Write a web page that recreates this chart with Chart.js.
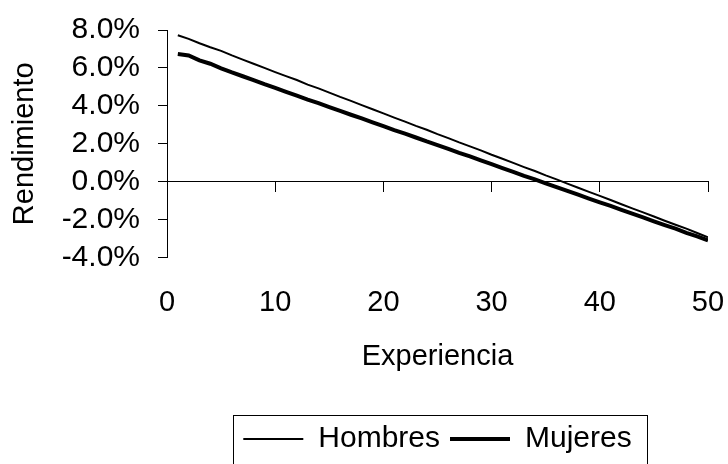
<!DOCTYPE html>
<html>
<head>
<meta charset="utf-8">
<script src="https://cdn.jsdelivr.net/npm/chart.js@4/dist/chart.umd.min.js"></script>
<style>
  html, body { margin: 0; padding: 0; background: #ffffff; }
  #chart { display: block; }
</style>
</head>
<body>
<canvas id="chart" width="728" height="464"></canvas>
<script>
// Years of experience
const experiencia = [1, 2, 3, 4, 5, 6, 7, 8, 9, 10,
  11, 12, 13, 14, 15, 16, 17, 18, 19, 20,
  21, 22, 23, 24, 25, 26, 27, 28, 29, 30,
  31, 32, 33, 34, 35, 36, 37, 38, 39, 40,
  41, 42, 43, 44, 45, 46, 47, 48, 49, 50];

// Marginal return (%) for men
const hombres = [7.72, 7.53, 7.30, 7.09, 6.90, 6.66, 6.44, 6.22, 6.00, 5.78,
  5.57, 5.36, 5.12, 4.92, 4.70, 4.47, 4.26, 4.04, 3.82, 3.60,
  3.38, 3.17, 2.94, 2.74, 2.51, 2.30, 2.07, 1.86, 1.65, 1.42,
  1.21, 0.99, 0.77, 0.56, 0.33, 0.12, -0.10, -0.32, -0.54, -0.75,
  -0.97, -1.19, -1.41, -1.62, -1.84, -2.06, -2.27, -2.48, -2.71, -2.93];

// Marginal return (%) for women
const mujeres = [6.73, 6.66, 6.40, 6.22, 5.98, 5.76, 5.56, 5.36, 5.14, 4.95,
  4.74, 4.54, 4.33, 4.14, 3.93, 3.73, 3.53, 3.34, 3.13, 2.93,
  2.72, 2.53, 2.33, 2.12, 1.93, 1.73, 1.52, 1.33, 1.12, 0.92,
  0.72, 0.52, 0.31, 0.12, -0.09, -0.29, -0.48, -0.69, -0.89, -1.09,
  -1.28, -1.49, -1.69, -1.88, -2.09, -2.29, -2.48, -2.70, -2.88, -3.10];

const seriesNames = ['Hombres', 'Mujeres'];
const xTicks = [0, 10, 20, 30, 40, 50];
const yTicks = [-4, -2, 0, 2, 4, 6, 8];

const FONT = 'Liberation Sans, Arial, sans-serif';

const toPoints = (vals) => vals.map((v, i) => ({ x: experiencia[i], y: v }));

// White page behind the chart
const whiteBg = {
  id: 'whiteBg',
  beforeDraw(chart) {
    const c = chart.ctx;
    c.save();
    c.fillStyle = '#ffffff';
    c.fillRect(0, 0, chart.width, chart.height);
    c.restore();
  }
};

// Thin frame around the legend entries
const legendFrame = {
  id: 'legendFrame',
  afterDraw(chart) {
    const lg = chart.legend;
    if (!lg || !lg.legendHitBoxes || !lg.legendHitBoxes.length) return;
    const boxes = lg.legendHitBoxes;
    const left = Math.min(...boxes.map(b => b.left)) - 10;
    const right = Math.max(...boxes.map(b => b.left + b.width)) + 16;
    const top = lg.top + 1;
    const c = chart.ctx;
    c.save();
    c.strokeStyle = '#000000';
    c.lineWidth = 1;
    c.strokeRect(Math.round(left) + 0.5, Math.round(top) + 0.5, Math.round(right - left), chart.height);
    c.restore();
  }
};

new Chart(document.getElementById('chart'), {
  type: 'line',
  data: {
    datasets: [
      {
        label: seriesNames[0],
        data: toPoints(hombres),
        borderColor: '#000000',
        backgroundColor: '#000000',
        borderWidth: 2,
        pointRadius: 0,
        tension: 0,
        fill: false
      },
      {
        label: seriesNames[1],
        data: toPoints(mujeres),
        borderColor: '#000000',
        backgroundColor: '#000000',
        borderWidth: 4,
        pointRadius: 0,
        tension: 0,
        fill: false
      }
    ]
  },
  options: {
    responsive: false,
    animation: false,
    devicePixelRatio: 1,
    layout: { padding: { top: 30, right: 20, bottom: 0, left: 0 } },
    scales: {
      x: {
        type: 'linear',
        position: 'bottom',
        min: 0,
        max: 50,
        afterBuildTicks: (s) => { s.ticks = xTicks.map(v => ({ value: v })); },
        ticks: { color: '#000000', font: { family: FONT, size: 29 }, padding: 0, maxRotation: 0, autoSkip: false },
        // invisible tick marks only reserve the gap above the labels
        grid: { display: true, drawOnChartArea: false, drawTicks: true, tickLength: 28, color: 'rgba(0,0,0,0)' },
        border: { display: false },
        title: {
          display: true,
          text: 'Experiencia',
          color: '#000000',
          font: { family: FONT, size: 29 },
          padding: { top: 0, bottom: 40 }
        },
        afterFit: (s) => { s.height = 156.5; }
      },
      xAxisZero: {
        type: 'linear',
        position: { y: 0 },
        min: 0,
        max: 50,
        afterBuildTicks: (s) => { s.ticks = xTicks.map(v => ({ value: v })); },
        ticks: { display: false },
        grid: { drawOnChartArea: false, color: '#000000', tickLength: 10, lineWidth: 1 },
        border: { display: true, color: '#000000', width: 1 }
      },
      y: {
        type: 'linear',
        position: 'left',
        min: -4,
        max: 8,
        afterBuildTicks: (s) => { s.ticks = yTicks.map(v => ({ value: v })); },
        ticks: {
          color: '#000000',
          font: { family: FONT, size: 30, lineHeight: 0.6 },
          padding: 18,
          autoSkip: false,
          callback: (v) => Number(v).toFixed(1) + '%'
        },
        grid: { drawOnChartArea: false, color: '#000000', tickLength: 9, lineWidth: 1 },
        border: { display: true, color: '#000000', width: 1 },
        title: {
          display: true,
          text: 'Rendimiento',
          color: '#000000',
          font: { family: FONT, size: 29 },
          padding: { top: 8, bottom: 0 }
        },
        afterFit: (s) => { s.width = 167; }
      }
    },
    plugins: {
      legend: {
        display: true,
        position: 'bottom',
        fullSize: false,
        labels: {
          color: '#000000',
          font: { family: FONT, size: 30 },
          boxWidth: 60,
          boxHeight: 0,
          padding: 10
        }
      },
      tooltip: { enabled: false }
    }
  },
  plugins: [whiteBg, legendFrame]
});
</script>
</body>
</html>
